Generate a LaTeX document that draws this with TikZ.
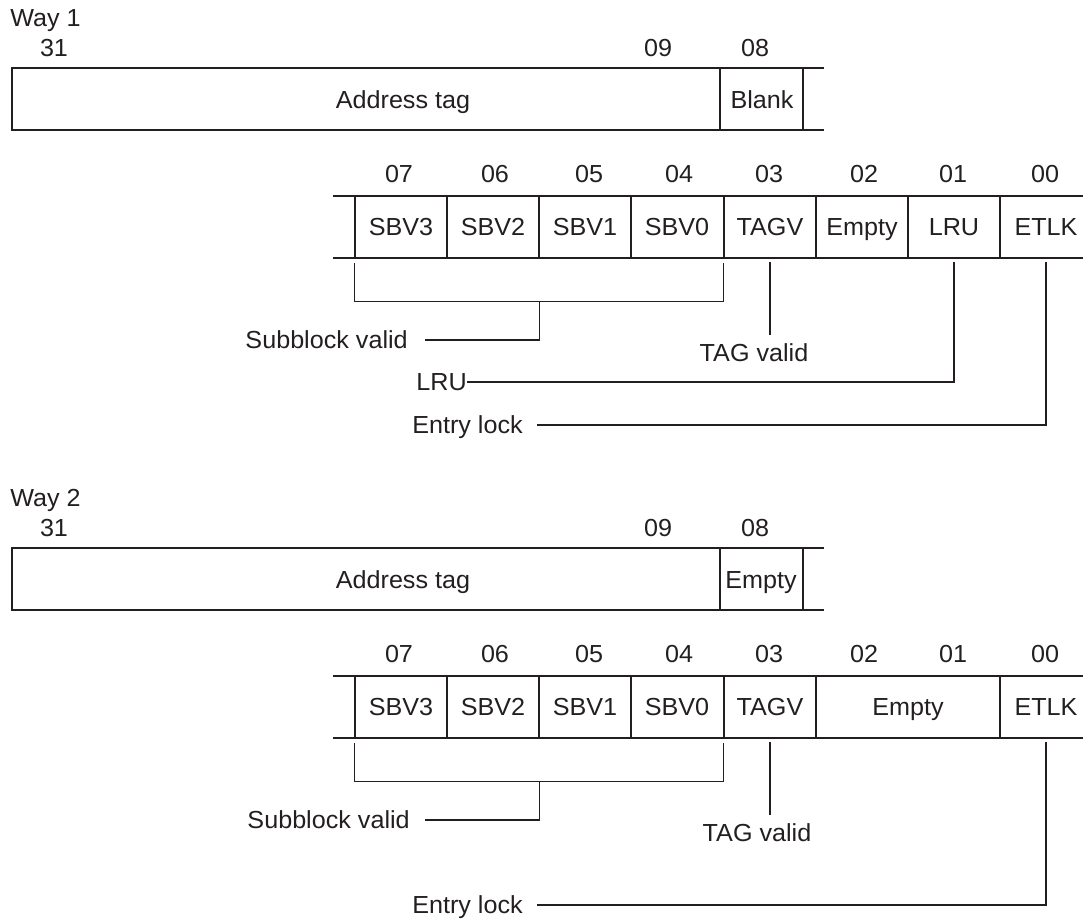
\documentclass[tikz,border=0pt]{standalone}
\usepackage{fontspec}
\setmainfont{Liberation Sans}[FakeStretch=1.02]
\definecolor{ink}{HTML}{231F20}
\tikzset{
  txt/.style={inner sep=0pt, text height=13.2pt, text depth=0pt, text=ink, font=\fontsize{18.5}{22}\selectfont},
  cell/.style={txt, minimum width=69pt, minimum height=46.5pt},
  box/.style={draw=ink, line width=1.4pt},
  conn/.style={draw=ink, line width=0.8pt},
}
\begin{document}
\begin{tikzpicture}[x=0.75pt,y=0.75pt,yscale=-1,xscale=1]
\useasboundingbox (0,0) rectangle (1083,920);

%%%%%%%% Way 1
% Text Node
\node[txt, anchor=west] (way1) at (10,18) {Way 1};
% Text Node
\node[txt] (w1b31) at (54,48) {31};
\node[txt] (w1b09) at (658,48) {09};
\node[txt] (w1b08) at (755,48) {08};
%Shape: Address tag frame
\draw[box] (824,68) -- (12,68) -- (12,130) -- (824,130);
\draw[box] (720,68) -- (720,130) (803,68) -- (803,130);
% Text Node
\node[txt] (w1tag) at (403,100) {Address tag};
\node[txt] (w1blank) at (762,100) {Blank};

% Text Node
\node[txt] (w1b07) at (399,174) {07};
\node[txt] (w1b06) at (495,174) {06};
\node[txt] (w1b05) at (589,174) {05};
\node[txt] (w1b04) at (679,174) {04};
\node[txt] (w1b03) at (769,174) {03};
\node[txt] (w1b02) at (864,174) {02};
\node[txt] (w1b01) at (953,174) {01};
\node[txt] (w1b00) at (1045,174) {00};
% Flag fields
\node[cell] (w1sbv3) at (401,227) {SBV3};
\node[cell] (w1sbv2) at (493,227) {SBV2};
\node[cell] (w1sbv1) at (585,227) {SBV1};
\node[cell] (w1sbv0) at (677,227) {SBV0};
\node[cell] (w1tagv) at (770,227) {TAGV};
\node[cell] (w1empty) at (862,227) {Empty};
\node[cell] (w1lru) at (954,227) {LRU};
\node[cell] (w1etlk) at (1046,227) {ETLK};
%Shape: flag frame
\draw[box] (333,196) -- (1083,196) (333,258) -- (1083,258);
\draw[box] (w1sbv3.north west) -- (w1sbv3.south west) (w1sbv2.north west) -- (w1sbv2.south west)
  (w1sbv1.north west) -- (w1sbv1.south west) (w1sbv0.north west) -- (w1sbv0.south west)
  (w1tagv.north west) -- (w1tagv.south west) (w1empty.north west) -- (w1empty.south west)
  (w1lru.north west) -- (w1lru.south west) (w1etlk.north west) -- (w1etlk.south west);

% Text Node
\node[txt, anchor=east] (w1sbval) at (408,340) {Subblock valid};
\node[txt] (w1tagval) at (754,353) {TAG valid};
\node[txt, anchor=east] (w1lrul) at (467,382) {LRU};
\node[txt, anchor=east] (w1entry) at (523,425) {Entry lock};
% Connectors
\draw[conn, shorten <=3.75pt, shorten >=3.75pt] (w1sbv3.south west) -- ++(0,43) -| (w1sbv0.south east);
\draw[conn, shorten >=12.75pt] (w1sbv2.south east) ++(0,43) |- (w1sbval.east);
\draw[conn, shorten <=3pt, shorten >=6.5pt] (w1tagv.south) -- (w1tagv.south |- w1tagval.north);
\draw[conn, shorten <=3pt] (w1lru.south) |- (w1lrul.east);
\draw[conn, shorten <=3pt, shorten >=10.5pt] (w1etlk.south) |- (w1entry.east);

%%%%%%%% Way 2
% Text Node
\node[txt, anchor=west] (way2) at (10,498) {Way 2};
% Text Node
\node[txt] (w2b31) at (54,528) {31};
\node[txt] (w2b09) at (658,528) {09};
\node[txt] (w2b08) at (755,528) {08};
%Shape: Address tag frame
\draw[box] (824,548) -- (12,548) -- (12,610) -- (824,610);
\draw[box] (720,548) -- (720,610) (803,548) -- (803,610);
% Text Node
\node[txt] (w2tag) at (403,580) {Address tag};
\node[txt] (w2blank) at (761,580) {Empty};

% Text Node
\node[txt] (w2b07) at (399,654) {07};
\node[txt] (w2b06) at (495,654) {06};
\node[txt] (w2b05) at (589,654) {05};
\node[txt] (w2b04) at (679,654) {04};
\node[txt] (w2b03) at (769,654) {03};
\node[txt] (w2b02) at (864,654) {02};
\node[txt] (w2b01) at (953,654) {01};
\node[txt] (w2b00) at (1045,654) {00};
% Flag fields
\node[cell] (w2sbv3) at (401,707) {SBV3};
\node[cell] (w2sbv2) at (493,707) {SBV2};
\node[cell] (w2sbv1) at (585,707) {SBV1};
\node[cell] (w2sbv0) at (677,707) {SBV0};
\node[cell] (w2tagv) at (770,707) {TAGV};
\node[cell, minimum width=138pt] (w2empty) at (908,707) {Empty};
\node[cell] (w2etlk) at (1046,707) {ETLK};
%Shape: flag frame
\draw[box] (333,676) -- (1083,676) (333,738) -- (1083,738);
\draw[box] (w2sbv3.north west) -- (w2sbv3.south west) (w2sbv2.north west) -- (w2sbv2.south west)
  (w2sbv1.north west) -- (w2sbv1.south west) (w2sbv0.north west) -- (w2sbv0.south west)
  (w2tagv.north west) -- (w2tagv.south west) (w2empty.north west) -- (w2empty.south west)
  (w2etlk.north west) -- (w2etlk.south west);

% Text Node
\node[txt, anchor=east] (w2sbval) at (410,820) {Subblock valid};
\node[txt] (w2tagval) at (757,833) {TAG valid};
\node[txt, anchor=east] (w2entry) at (523,905) {Entry lock};
% Connectors
\draw[conn, shorten <=3.75pt, shorten >=3.75pt] (w2sbv3.south west) -- ++(0,43) -| (w2sbv0.south east);
\draw[conn, shorten >=11.25pt] (w2sbv2.south east) ++(0,43) |- (w2sbval.east);
\draw[conn, shorten <=3pt, shorten >=6.5pt] (w2tagv.south) -- (w2tagv.south |- w2tagval.north);
\draw[conn, shorten <=3pt, shorten >=10.5pt] (w2etlk.south) |- (w2entry.east);
\end{tikzpicture}
\end{document}
